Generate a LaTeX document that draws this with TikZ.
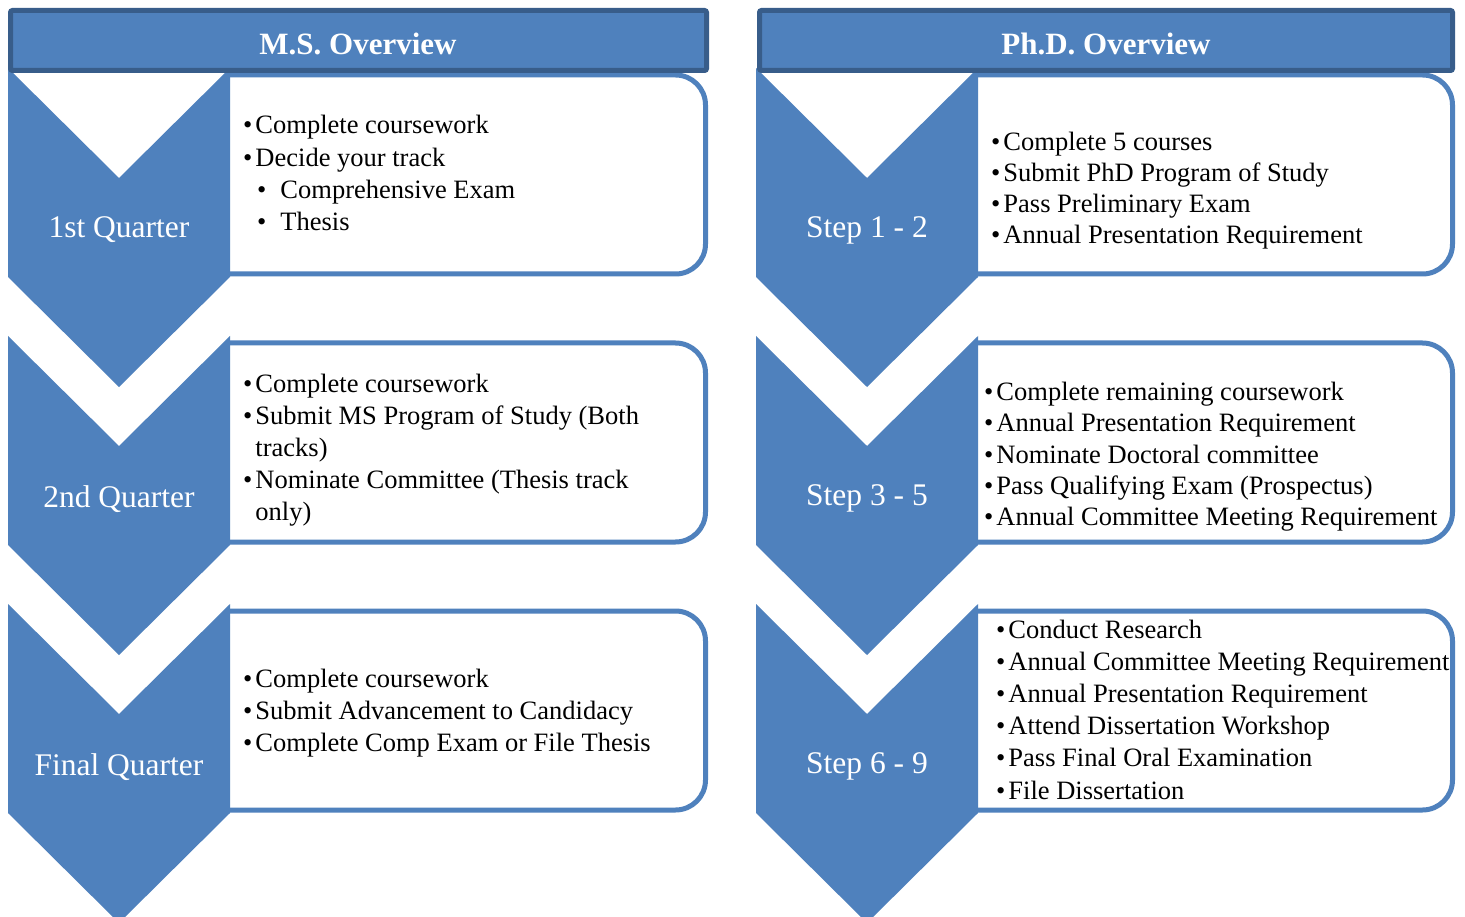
\documentclass[tikz,border=0pt]{standalone}
\usepackage{fontspec}
\setmainfont{Liberation Serif}
\definecolor{blu}{HTML}{4F81BD}
\definecolor{dblu}{HTML}{385D8A}
\newcommand\itm{•\hspace{3pt}}
\newcommand\itembox[2]{\parbox[t]{500pt}{\fontsize{26.5}{#1}\selectfont\raggedright #2}}
\begin{document}
\begin{tikzpicture}[x=1pt,y=-1pt,
  chev/.style={fill=blu, draw=none},
  box/.style={draw=blu, line width=5pt, fill=white, rounded corners=30pt},
  hdr/.style={fill=blu, draw=dblu, line width=5pt, rounded corners=2pt},
  hdrtext/.style={text=white, font=\bfseries\fontsize{31}{36}\selectfont, inner sep=0pt},
  chevtext/.style={text=white, font=\fontsize{31.5}{36}\selectfont, inner sep=0pt},
  items/.style={anchor=base west, inner sep=0pt, text=black}]
\clip (0,0) rectangle (1465,917);
\fill[white] (0,0) rectangle (1465,917);
% boxes
\begin{scope}
  \clip (228,0) rectangle (720,917);
  \foreach \t in {0,268,536} \draw[box] (150,75+\t) rectangle (705.5,274+\t);
\end{scope}
\begin{scope}
  \clip (976,0) rectangle (1465,917);
  \foreach \t in {0,268,536} \draw[box] (900,75+\t) rectangle (1452.5,274+\t);
\end{scope}
% chevrons
\foreach \cx in {119,867} \foreach \t in {68,336,604}
  \fill[chev] (\cx-111,\t) -- (\cx,\t+110) -- (\cx+111,\t) -- (\cx+111,\t+209)
     -- (\cx,\t+319) -- (\cx-111,\t+209) -- cycle;
% headers
\draw[hdr] (10.5,10.5) rectangle (706.5,70.5);
\draw[hdr] (759.5,10.5) rectangle (1452.5,70.5);
\node[hdrtext] (hms) at (358,44) {M.S. Overview};
\node[hdrtext] (hphd) at (1106,44) {Ph.D. Overview};
% chevron labels
\node[chevtext] (q1) at (119,230) {1st Quarter};
\node[chevtext] (q2) at (119,499) {2nd Quarter};
\node[chevtext] (q3) at (119,767) {Final Quarter};
\node[chevtext] (s1) at (867,230) {Step 1 - 2};
\node[chevtext] (s2) at (867,498) {Step 3 - 5};
\node[chevtext] (s3) at (867,766) {Step 6 - 9};
% items
\node[items] (ms1) at (243,134) {\itembox{32.3pt}{%
\itm Complete coursework\\
\itm Decide your track\\
\hspace*{14pt}•\hspace{14pt}Comprehensive Exam\\
\hspace*{14pt}•\hspace{14pt}Thesis}};
\node[items] (ms2) at (243,392) {\itembox{32pt}{%
\itm Complete coursework\\
\itm Submit MS Program of Study (Both\\
\phantom{\itm}tracks)\\
\itm Nominate Committee (Thesis track\\
\phantom{\itm}only)}};
\node[items] (ms3) at (243,687) {\itembox{32pt}{%
\itm Complete coursework\\
\itm Submit Advancement to Candidacy\\
\itm Complete Comp Exam or File Thesis}};
\node[items] (phd1) at (991,151) {\itembox{31pt}{%
\itm Complete 5 courses\\
\itm Submit PhD Program of Study\\
\itm Pass Preliminary Exam\\
\itm Annual Presentation Requirement}};
\node[items] (phd2) at (984,400) {\itembox{31.5pt}{%
\itm Complete remaining coursework\\
\itm Annual Presentation Requirement\\
\itm Nominate Doctoral committee\\
\itm Pass Qualifying Exam (Prospectus)\\
\itm Annual Committee Meeting Requirement}};
\node[items] (phd3) at (996,638) {\itembox{32.2pt}{%
\itm Conduct Research\\
\itm Annual Committee Meeting Requirement\\
\itm Annual Presentation Requirement\\
\itm Attend Dissertation Workshop\\
\itm Pass Final Oral Examination\\
\itm File Dissertation}};
\end{tikzpicture}
\end{document}
